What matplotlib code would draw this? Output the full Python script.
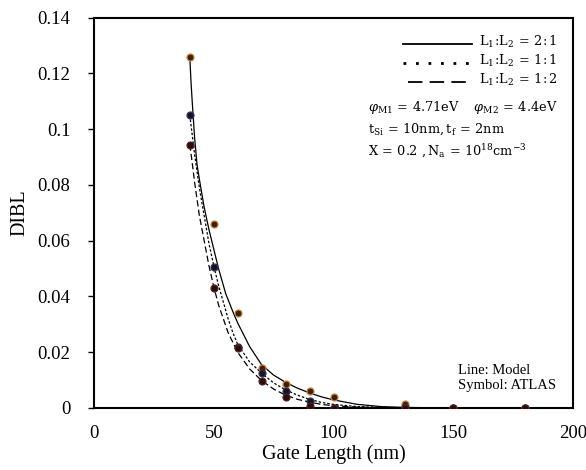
import matplotlib
matplotlib.use("Agg")
import matplotlib.pyplot as plt
from matplotlib.lines import Line2D

plt.rcParams['font.family'] = ['Liberation Serif', 'DejaVu Serif']
plt.rcParams['mathtext.fontset'] = 'dejavuserif'

# ---- simulation (ATLAS) points ----
x_sim = [40, 50, 60, 70, 80, 90, 100, 130, 150, 180]
sim_21 = [0.126, 0.066, 0.034, 0.0145, 0.0087, 0.0062, 0.0038, 0.0013, 0.0001, 0.0]
sim_11 = [0.105, 0.0507, 0.022, 0.0124, 0.0060, 0.0025, 0.0, 0.0003, 0.0, 0.0]
sim_12 = [0.0945, 0.043, 0.0215, 0.0097, 0.0041, 0.0007, 0.0, 0.0, 0.0, 0.0]

# ---- model curves ----
x_mod21 = [40, 40.5, 41, 42, 43, 44, 46, 48, 50, 52, 55, 58, 60, 65, 70, 75, 80, 85, 90,
           95, 100, 110, 120, 130, 150, 180]
mod_21 = [0.126, 0.117, 0.110, 0.097, 0.0875, 0.082, 0.072, 0.064, 0.057, 0.050, 0.041,
          0.0345, 0.0305, 0.022, 0.0155, 0.0118, 0.0092, 0.0071, 0.0054, 0.0040, 0.0029,
          0.0013, 0.0005, 0.0002, 0.0, 0.0]
x_mod = [40, 41, 42, 43, 44, 46, 48, 50, 52, 54, 56, 58, 60, 65, 70, 75, 80, 85, 90, 95,
         100, 110, 120, 130, 150, 180]
mod_11 = [0.105, 0.098, 0.091, 0.085, 0.079, 0.069, 0.059, 0.051, 0.044, 0.038, 0.032,
          0.027, 0.0228, 0.0165, 0.0125, 0.009, 0.0065, 0.0046, 0.0031, 0.0020, 0.0013,
          0.0005, 0.0002, 0.0001, 0.0, 0.0]
mod_12 = [0.0945, 0.088, 0.081, 0.075, 0.069, 0.060, 0.051, 0.0435, 0.037, 0.032, 0.027,
          0.0235, 0.020, 0.014, 0.0098, 0.0068, 0.0046, 0.0031, 0.0021, 0.0013, 0.0008,
          0.0003, 0.0001, 0.0, 0.0, 0.0]

legend_labels = [r'$\mathrm{L_1\!:\!L_2\,=\,2\!:1}$',
                 r'$\mathrm{L_1\!:\!L_2\,=\,1\!:1}$',
                 r'$\mathrm{L_1\!:\!L_2\,=\,1\!:2}$']
param_lines = [r'$\varphi_{\mathrm{M1}}\,=\,4.71\mathrm{eV}\ \ \ \ \varphi_{\mathrm{M2}}\,=\,4.4\mathrm{eV}$',
               r'$\mathrm{t_{Si}\,=\,10nm,t_f\,=\,2nm}$',
               r'$\mathrm{X\,=\,0.2\ ,N_a\,=\,10^{18}cm^{-3}}$']

fig = plt.figure(figsize=(5.86, 4.70), dpi=100)
ax = fig.add_axes([94/586, 1-408/470, (573-94)/586, (408-17.7)/470])

ax.plot(x_mod21, mod_21, color='black', lw=0.9, ls='-', zorder=2)
ax.plot(x_mod, mod_11, color='black', lw=0.9, ls=(0, (2, 1.5)), zorder=2)
ax.plot(x_mod, mod_12, color='black', lw=0.9, ls=(0, (5, 2.5)), zorder=2)

ax.plot(x_sim, sim_21, ls='none', marker='o', ms=5, mfc='#3a200e', mec='#c8803c', mew=0.9, zorder=3)
ax.plot(x_sim, sim_11, ls='none', marker='o', ms=5, mfc='#12122a', mec='#34344e', mew=0.9, zorder=3)
ax.plot(x_sim, sim_12, ls='none', marker='o', ms=5, mfc='#2a0c0c', mec='#4e2222', mew=0.9, zorder=3)

ax.set_xlim(0, 200)
ax.set_ylim(0, 0.14)
ax.set_xticks([0, 50, 100, 150, 200])
ax.set_xticklabels(['0', '50', '100', '150', '200'])
ax.set_yticks([0, 0.02, 0.04, 0.06, 0.08, 0.1, 0.12, 0.14])
ax.set_yticklabels(['0', '0.02', '0.04', '0.06', '0.08', '0.1', '0.12', '0.14'])
ax.tick_params(axis='y', direction='out', length=4, width=1, pad=13, labelsize=13.5)
ax.tick_params(axis='x', direction='out', length=0, width=1, pad=12, labelsize=13.5)
for s in ax.spines.values():
    s.set_linewidth(1.5)
    s.set_color('black')

ax.set_xlabel('Gate Length (nm)', fontsize=14.5, labelpad=2)
ax.set_ylabel('DIBL', fontsize=14.5, labelpad=6)

# legend drawn manually
def axc(px, py):
    return ((px - 94) / (573 - 94), (408 - py) / (408 - 17.7))

styles = [dict(ls='-', lw=1.3), dict(ls=(0, (1, 3.5)), lw=2.0), dict(ls=(0, (8, 4)), lw=1.3)]
line_y = [43.5, 63, 82]
x_starts = [403, 403, 408]
for i in range(3):
    (x0, y0) = axc(x_starts[i], line_y[i])
    (x1, _) = axc(472, line_y[i])
    ax.add_line(Line2D([x0, x1], [y0, y0], transform=ax.transAxes, color='black', **styles[i]))
    tx, ty = axc(479, line_y[i] - 2)
    ax.text(tx, ty, legend_labels[i], transform=ax.transAxes, fontsize=9.3,
            ha='left', va='center')

for i, yy in enumerate([107, 129, 151]):
    tx, ty = axc(368, yy)
    ax.text(tx, ty, param_lines[i], transform=ax.transAxes, fontsize=9.3,
            ha='left', va='center')

tx, ty = axc(458, 370)
ax.text(tx, ty, 'Line: Model', transform=ax.transAxes, fontsize=10.5, ha='left', va='center')
tx, ty = axc(458, 386)
ax.text(tx, ty, 'Symbol: ATLAS', transform=ax.transAxes, fontsize=10.5, ha='left', va='center')

fig.savefig('out.png', dpi=100)
